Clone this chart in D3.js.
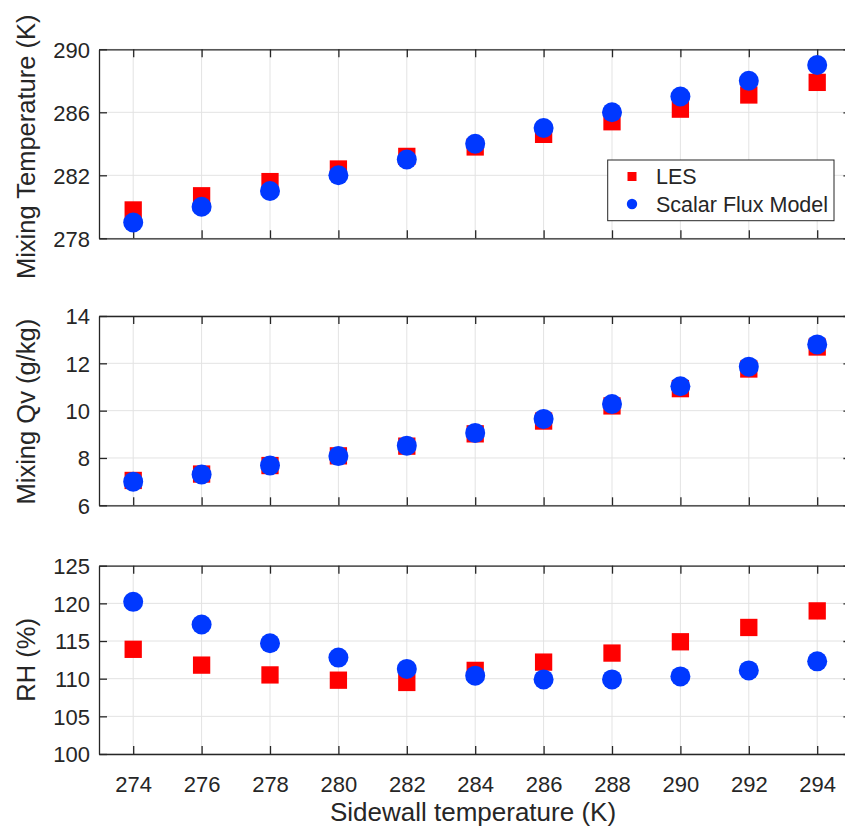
<!DOCTYPE html>
<html><head><meta charset="utf-8">
<script src="https://cdn.jsdelivr.net/npm/d3@7"></script>
<style>
html,body{margin:0;padding:0;background:#fff;}
svg{display:block;}
text{font-family:"Liberation Sans",Arial,Helvetica,sans-serif;fill:#262626;}
</style></head>
<body>
<svg id="chart" width="845" height="829"></svg>
<script>
// ---- data ----
const sidewallT = [274, 276, 278, 280, 282, 284, 286, 288, 290, 292, 294];
const xTicks = [274, 276, 278, 280, 282, 284, 286, 288, 290, 292, 294];

const mixTempLES = [279.8, 280.7, 281.6, 282.4, 283.2, 283.8, 284.6, 285.4, 286.2, 287.1, 287.9];
const mixTempSFM = [279.0, 280.0, 281.0, 282.0, 283.0, 284.0, 285.0, 286.0, 287.0, 288.0, 289.0];
const tempTicks = [278, 282, 286, 290];

const mixQvLES = [7.05, 7.32, 7.68, 8.09, 8.5, 9.02, 9.56, 10.2, 10.93, 11.76, 12.69];
const mixQvSFM = [7.0, 7.3, 7.68, 8.08, 8.52, 9.06, 9.65, 10.28, 11.03, 11.86, 12.8];
const qvTicks = [6, 8, 10, 12, 14];

const rhLES = [113.9, 111.8, 110.5, 109.8, 109.5, 111.1, 112.2, 113.4, 114.9, 116.8, 119.0];
const rhSFM = [120.2, 117.2, 114.7, 112.8, 111.3, 110.4, 109.9, 109.9, 110.3, 111.1, 112.3];
const rhTicks = [100, 105, 110, 115, 120, 125];

const seriesNames = ["LES", "Scalar Flux Model"];
const xLabel = "Sidewall temperature (K)";

// ---- layout ----
const svg = d3.select("#chart");
const axisColor = "#262626";
const gridColor = "#e3e3e3";
const lesColor = "#ff0000";
const sfmColor = "#0038ff";
const x = d3.scaleLinear().domain([273, 295]).range([99, 851.4]);

const panels = [
  {les: mixTempLES, sfm: mixTempSFM, dom: [278, 290], top: 49.3, bottom: 238.3, ticks: tempTicks, label: "Mixing Temperature (K)", labelShift: 3, legend: true},
  {les: mixQvLES, sfm: mixQvSFM, dom: [6, 14], top: 316, bottom: 505.3, ticks: qvTicks, label: "Mixing Qv (g/kg)", labelShift: 1},
  {les: rhLES, sfm: rhSFM, dom: [100, 125], top: 565.7, bottom: 754, ticks: rhTicks, label: "RH (%)", labelShift: 0, xlabels: true}
];

const sq = 17.3, rad = 10;
const tickLen = 8;

panels.forEach(p => {
  const y = d3.scaleLinear().domain(p.dom).range([p.bottom, p.top]);
  const g = svg.append("g");
  const x0 = x.range()[0], x1 = x.range()[1];

  // grid
  g.selectAll(".vg").data(xTicks).enter().append("line")
    .attr("x1", d => x(d)).attr("x2", d => x(d))
    .attr("y1", p.top).attr("y2", p.bottom)
    .attr("stroke", gridColor).attr("stroke-width", 1);
  g.selectAll(".hg").data(p.ticks).enter().append("line")
    .attr("x1", x0).attr("x2", x1)
    .attr("y1", d => y(d)).attr("y2", d => y(d))
    .attr("stroke", gridColor).attr("stroke-width", 1);

  // axes via d3 axes (inward ticks)
  const axB = d3.axisBottom(x).tickValues(xTicks).tickSizeInner(-tickLen).tickSizeOuter(0)
    .tickFormat(p.xlabels ? d3.format("d") : () => "").tickPadding(p.xlabels ? 22 : 0);
  const axT = d3.axisTop(x).tickValues(xTicks).tickSizeInner(-tickLen).tickSizeOuter(0).tickFormat(() => "");
  const axL = d3.axisLeft(y).tickValues(p.ticks).tickSizeInner(-tickLen).tickSizeOuter(0)
    .tickFormat(d3.format("d")).tickPadding(9);
  const axR = d3.axisRight(y).tickValues(p.ticks).tickSizeInner(-tickLen).tickSizeOuter(0).tickFormat(() => "");

  const styleAxis = sel => {
    sel.select(".domain").attr("stroke", axisColor).attr("stroke-width", 1.3);
    sel.selectAll(".tick line").attr("stroke", axisColor).attr("stroke-width", 1.3);
    sel.selectAll(".tick text").attr("fill", axisColor).style("font-size", "22px")
      .style("font-family", '"Liberation Sans",Arial,sans-serif');
  };
  g.append("g").attr("transform", `translate(0,${p.bottom})`).call(axB).call(styleAxis);
  g.append("g").attr("transform", `translate(0,${p.top})`).call(axT).call(styleAxis);
  g.append("g").attr("transform", `translate(${x0},0)`).call(axL).call(styleAxis)
    .selectAll(".tick text").attr("dy", "0.36em");
  g.append("g").attr("transform", `translate(${x1},0)`).call(axR).call(styleAxis);

  // markers: LES squares then SFM circles
  g.selectAll(".les").data(sidewallT.map((t, i) => [t, p.les[i]])).enter().append("rect")
    .attr("x", d => x(d[0]) - sq / 2).attr("y", d => y(d[1]) - sq / 2)
    .attr("width", sq).attr("height", sq).attr("fill", lesColor);
  g.selectAll(".sfm").data(sidewallT.map((t, i) => [t, p.sfm[i]])).enter().append("circle")
    .attr("cx", d => x(d[0])).attr("cy", d => y(d[1])).attr("r", rad).attr("fill", sfmColor);

  // y label
  svg.append("text")
    .attr("transform", `translate(35,${(p.top + p.bottom) / 2 + p.labelShift}) rotate(-90)`)
    .attr("text-anchor", "middle").style("font-size", "25.5px").text(p.label);

  if (p.legend) {
    const lg = svg.append("g");
    lg.append("rect").attr("x", 607.7).attr("y", 160).attr("width", 226.3).attr("height", 60.7)
      .attr("fill", "#fff").attr("stroke", axisColor).attr("stroke-width", 1);
    lg.append("rect").attr("x", 632 - 4.5).attr("y", 176.5 - 4.5).attr("width", 9).attr("height", 9).attr("fill", lesColor);
    lg.append("circle").attr("cx", 632).attr("cy", 204).attr("r", 5.2).attr("fill", sfmColor);
    lg.append("text").attr("x", 656).attr("y", 176.5).attr("dy", "0.36em").style("font-size", "21.5px").text(seriesNames[0]);
    lg.append("text").attr("x", 656).attr("y", 204).attr("dy", "0.36em").style("font-size", "21.5px").text(seriesNames[1]);
  }
});

svg.append("text").attr("x", 473).attr("y", 821).attr("text-anchor", "middle")
  .style("font-size", "26px").text(xLabel);
</script>
</body></html>
